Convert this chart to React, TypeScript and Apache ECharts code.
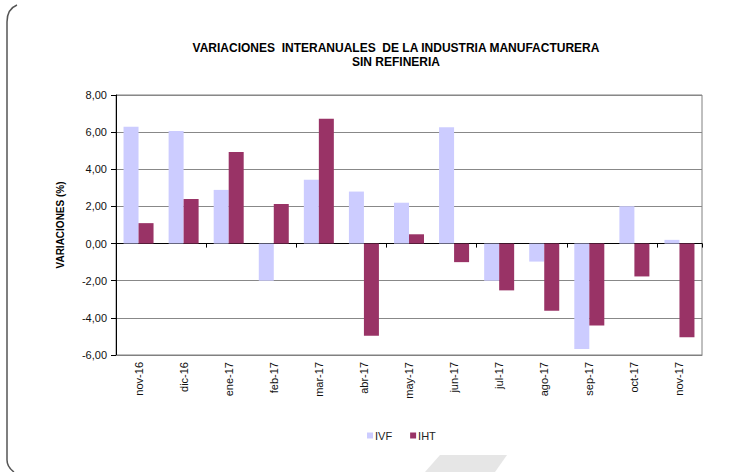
import React, { useEffect, useRef } from "react";
import * as echarts from "echarts";

const categories = ["nov-16", "dic-16", "ene-17", "feb-17", "mar-17", "abr-17", "may-17", "jun-17", "jul-17", "ago-17", "sep-17", "oct-17", "nov-17"];
const ivf = [6.29, 6.06, 2.89, -2.0, 3.44, 2.8, 2.2, 6.26, -2.0, -0.97, -5.68, 2.01, 0.2];
const iht = [1.1, 2.4, 4.93, 2.13, 6.72, -4.96, 0.5, -1.0, -2.52, -3.62, -4.41, -1.77, -5.05];
const seriesNames = ["IVF", "IHT"];
const titleText = "VARIACIONES  INTERANUALES  DE LA INDUSTRIA MANUFACTURERA\nSIN REFINERIA";
const yName = "VARIACIONES (%)";

echarts.graphic.registerShape(
  "frameLeft",
  echarts.graphic.extendPath("M 17 5 Q 7 9 7 22 L 7 460 Q 7 467 14 472", {})
);

export default function App() {
  const ref = useRef<HTMLDivElement>(null);
  useEffect(() => {
    if (!ref.current) return;
    const chart = echarts.init(ref.current, undefined, { renderer: "svg" });
    const font = "Liberation Sans, Arial, sans-serif";
    chart.setOption({
      animation: false,
      backgroundColor: "#ffffff",
      textStyle: { fontFamily: font },
      title: {
        text: titleText,
        left: 391,
        top: 36,
        textAlign: "center",
        textStyle: { fontSize: 12, fontWeight: "bold", color: "#000", lineHeight: 14, fontFamily: font },
      },
      legend: {
        data: seriesNames,
        left: 362,
        top: 425,
        icon: "rect",
        itemWidth: 6,
        itemHeight: 6,
        itemGap: 18,
        textStyle: { fontSize: 11, color: "#222", padding: [0, 0, 0, -3] },
      },
      grid: {
        left: 116,
        top: 95,
        width: 586,
        height: 260,
        show: true,
        borderColor: "#808080",
        borderWidth: 1,
        containLabel: false,
      },
      xAxis: [
        {
          type: "category",
          data: categories,
          position: "bottom",
          axisLine: { show: true, onZero: false, lineStyle: { color: "#808080" } },
          axisTick: { show: false },
          axisLabel: { rotate: 90, fontSize: 11, color: "#111", margin: 7 },
          splitLine: { show: false },
        },
        {
          type: "category",
          data: categories,
          position: "bottom",
          axisLine: { show: true, onZero: true, lineStyle: { color: "#000" } },
          axisTick: { show: true, length: 4, lineStyle: { color: "#000" } },
          axisLabel: { show: false },
          splitLine: { show: false },
        },
      ],
      yAxis: {
        type: "value",
        min: -6,
        max: 8,
        interval: 2,
        name: yName,
        nameLocation: "middle",
        nameRotate: 90,
        nameGap: 51,
        nameTextStyle: { fontSize: 10, fontWeight: "bold", color: "#000" },
        axisLine: { show: true, lineStyle: { color: "#000" } },
        axisTick: { show: true, length: 5, lineStyle: { color: "#000" } },
        axisLabel: {
          fontSize: 11,
          color: "#111",
          margin: 9,
          formatter: (v: number) => v.toFixed(2).replace(".", ","),
        },
        splitLine: { show: true, lineStyle: { color: "#888888", width: 1 } },
      },
      series: [
        {
          name: seriesNames[0],
          type: "bar",
          data: ivf,
          xAxisIndex: 0,
          barWidth: 15,
          barGap: "0%",
          itemStyle: { color: "#CCCCFF" },
        },
        {
          name: seriesNames[1],
          type: "bar",
          data: iht,
          xAxisIndex: 0,
          barWidth: 15,
          barGap: "0%",
          itemStyle: { color: "#993366" },
        },
      ],
      graphic: [
        {
          type: "frameLeft",
          x: 0,
          y: 0,
          style: { fill: "none", stroke: "#555", lineWidth: 1.5 },
          silent: true,
        },
        {
          type: "polygon",
          shape: { points: [[440, 455], [507, 455], [495, 472], [425, 472]] },
          style: { fill: "#e6e6e6" },
          silent: true,
        },
      ],
    });
    return () => chart.dispose();
  }, []);
  return (
    <div
      ref={ref}
      style={{ position: "fixed", left: 0, top: 0, width: 752, height: 472 }}
    />
  );
}
